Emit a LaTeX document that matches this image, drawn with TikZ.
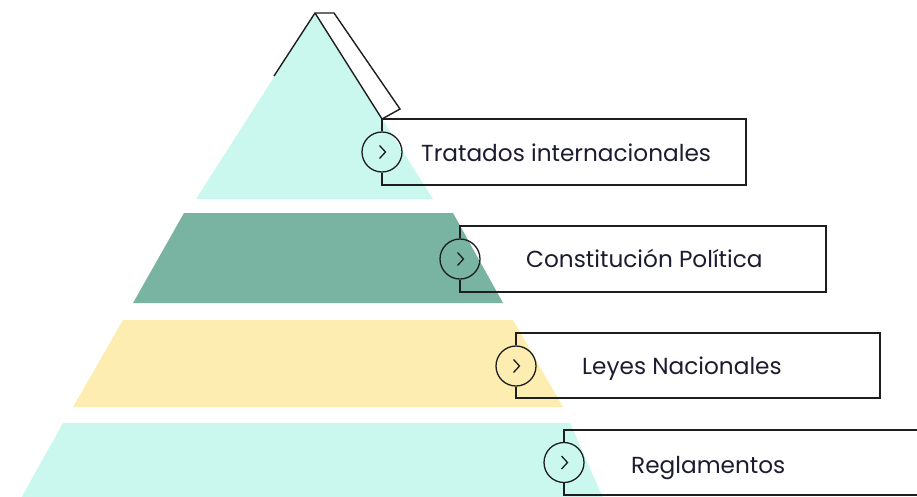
\documentclass[tikz,border=0pt]{standalone}
\usepackage{fontspec}
\setmainfont{Poppins}
\definecolor{cyanF}{RGB}{202,248,239}
\definecolor{greenF}{RGB}{121,180,163}
\definecolor{yellowF}{RGB}{253,237,176}
\definecolor{inkL}{RGB}{30,30,30}
\definecolor{txt}{RGB}{28,28,48}
\begin{document}
\begin{tikzpicture}[x=1pt,y=-1pt,
  outl/.style={draw=inkL,line width=1.4pt,line join=miter},
  circ/.style={circle,draw=inkL,line width=1.3pt,minimum size=40pt,inner sep=0pt},
  chev/.style={draw=inkL,line width=1.3pt},
  lbl/.style={anchor=base west,text=txt,font=\fontsize{23.2}{26}\selectfont,inner sep=0pt}]
\useasboundingbox (0,0) rectangle (917,496);
% tiers
\fill[cyanF] (315,13) -- (433,199) -- (196,199) -- cycle;
\fill[greenF] (184,213) -- (453,213) -- (503,303) -- (133,303) -- cycle;
\fill[yellowF] (123,320) -- (513,320) -- (563,407) -- (73,407) -- cycle;
\fill[cyanF] (63,423) -- (570,423) -- (604,500) -- (20,500) -- cycle;
% top outline
\coordinate (apex) at (315,13);
\coordinate (apexR) at (334,13);
\coordinate (leftEnd) at (274,76);
\coordinate (flapR) at (400,109);
% box 1
\coordinate (b1tl) at (382,119);
\coordinate (b1tr) at (746,119);
\coordinate (b1br) at (746,185);
\coordinate (b1bl) at (382,185);
\node[circ] (c1) at (382,152) {};
% box 2
\coordinate (b2tl) at (460,226);
\coordinate (b2tr) at (826,226);
\coordinate (b2br) at (826,292);
\coordinate (b2bl) at (460,292);
\node[circ] (c2) at (460,259) {};
% box 3
\coordinate (b3tl) at (516,333);
\coordinate (b3tr) at (880,333);
\coordinate (b3br) at (880,398);
\coordinate (b3bl) at (516,398);
\node[circ] (c3) at (516,366) {};
% box 4
\coordinate (b4tl) at (564,430);
\coordinate (b4tr) at (935,430);
\coordinate (b4br) at (935,495);
\coordinate (b4bl) at (564,495);
\node[circ] (c4) at (564,462.5) {};

\draw[outl] (leftEnd) -- (apex) -- (apexR) -- (flapR) -- (b1tl);
\draw[outl] (apex) -- (b1tl);
\draw[outl] (c1.north) -- (b1tl) -- (b1tr) -- (b1br) -- (b1bl) -- (c1.south);
\draw[outl] (c2.north) -- (b2tl) -- (b2tr) -- (b2br) -- (b2bl) -- (c2.south);
\draw[outl] (c3.north) -- (b3tl) -- (b3tr) -- (b3br) -- (b3bl) -- (c3.south);
\draw[outl] (c4.north) -- (b4tl) -- (b4tr) -- (b4br) -- (b4bl) -- (c4.south);

\foreach \c in {c1,c2,c3,c4}{
  \draw[chev] (\c.center) ++(-2.5,-6.5) -- ++(6,6.5) -- ++(-6,6.5);
}

\node[lbl] (t1) at (421,161) {Tratados internacionales};
\node[lbl] (t2) at (526,267) {Constitución Política};
\node[lbl] (t3) at (582,374) {Leyes Nacionales};
\node[lbl] (t4) at (631,473) {Reglamentos};
\end{tikzpicture}
\end{document}
